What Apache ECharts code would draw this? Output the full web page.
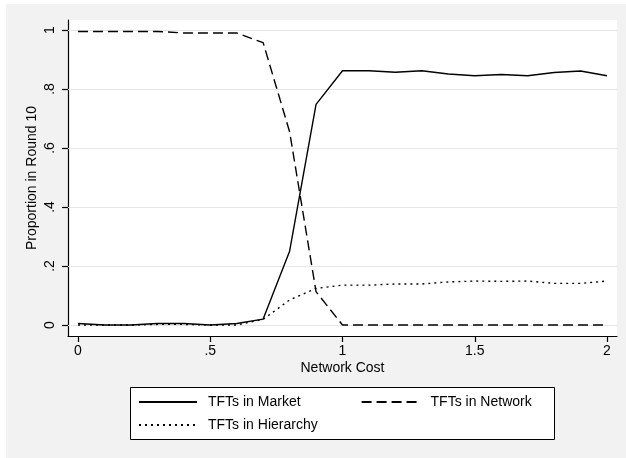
<!DOCTYPE html>
<html>
<head>
<meta charset="utf-8">
<script src="https://cdn.jsdelivr.net/npm/echarts@6/dist/echarts.min.js"></script>
<style>
html,body{margin:0;padding:0;background:#fff;}
#chart{width:626px;height:458px;}
</style>
</head>
<body>
<div id="chart"></div>
<script>
// ---- data ----
var networkCost = [0, 0.1, 0.2, 0.3, 0.4, 0.5, 0.6, 0.7, 0.8, 0.9, 1.0, 1.1, 1.2, 1.3, 1.4, 1.5, 1.6, 1.7, 1.8, 1.9, 2.0];
var tftsMarket = [0.005, 0.0, 0.0, 0.005, 0.005, 0.0, 0.005, 0.02, 0.25, 0.748, 0.862, 0.862, 0.857, 0.862, 0.851, 0.845, 0.849, 0.845, 0.856, 0.861, 0.845];
var tftsNetwork = [0.995, 0.995, 0.995, 0.995, 0.99, 0.99, 0.99, 0.957, 0.655, 0.113, 0.0, 0.0, 0.0, 0.0, 0.0, 0.0, 0.0, 0.0, 0.0, 0.0, 0.0];
var tftsHierarchy = [0.0, 0.0, 0.0, 0.002, 0.002, 0.0, 0.0, 0.019, 0.085, 0.124, 0.135, 0.135, 0.139, 0.139, 0.146, 0.149, 0.148, 0.149, 0.141, 0.141, 0.149];
var xTicks = [0, 0.5, 1, 1.5, 2];
var yTicks = [0, 0.2, 0.4, 0.6, 0.8, 1];
var seriesNames = ['TFTs in Market', 'TFTs in Network', 'TFTs in Hierarchy'];

function pairs(xs, ys) { return xs.map(function (x, i) { return [x, ys[i]]; }); }
function fmt(v) {
  var s = String(Math.round(v * 10) / 10);
  return s.replace(/^0\./, '.');
}

var font = 'Liberation Sans, Arial, Helvetica, sans-serif';
var chart = echarts.init(document.getElementById('chart'), null, {renderer: 'canvas'});
var lineW = 1.4;

var legendCommon = {
  orient: 'horizontal', padding: 0,
  itemWidth: 58, itemHeight: 14, z: 5, selectedMode: false,
  itemStyle: {opacity: 0},
  textStyle: {fontSize: 14, color: '#000', fontFamily: font, padding: [0, 0, 0, 6]}
};

var option = {
  animation: false,
  backgroundColor: '#ffffff',
  textStyle: {fontFamily: font},
  graphic: [
    {type: 'rect', z: -10, silent: true, shape: {x: 6, y: 4, width: 620, height: 454}, style: {fill: '#f2f2f2'}},
    {type: 'rect', z: 1, silent: true, shape: {x: 130.5, y: 387.5, width: 424, height: 52}, style: {fill: '#ffffff', stroke: '#000', lineWidth: 1}}
  ],
  grid: {left: 68, right: 9, top: 20, bottom: 122, show: true, backgroundColor: '#ffffff', borderWidth: 0, containLabel: false},
  xAxis: {
    type: 'value', min: -0.0378, max: 2.0378,
    name: 'Network Cost', nameLocation: 'middle', nameGap: 25, nameMoveOverlap: false,
    nameTextStyle: {fontSize: 14, color: '#000', fontFamily: font},
    axisLine: {show: true, onZero: false, lineStyle: {color: '#000', width: 1.2}},
    axisTick: {show: true, length: 6, customValues: xTicks, lineStyle: {color: '#000', width: 1.2}},
    axisLabel: {customValues: xTicks, formatter: fmt, fontSize: 14, color: '#000', margin: 8, fontFamily: font},
    splitLine: {show: false}
  },
  yAxis: {
    type: 'value', min: -0.0373, max: 1.0339,
    name: 'Proportion in Round 10', nameLocation: 'middle', nameGap: 29, nameRotate: 90, nameMoveOverlap: false,
    nameTextStyle: {fontSize: 14, color: '#000', fontFamily: font},
    axisLine: {show: true, onZero: false, lineStyle: {color: '#000', width: 1.2}},
    axisTick: {show: true, length: 6, customValues: yTicks, lineStyle: {color: '#000', width: 1.2}},
    axisLabel: {customValues: yTicks, formatter: fmt, fontSize: 14, color: '#000', margin: 11, rotate: 90, fontFamily: font},
    splitLine: {show: false}
  },
  legend: [
    Object.assign({}, legendCommon, {data: [seriesNames[0], seriesNames[1]], left: 138, top: 395, itemGap: 60}),
    Object.assign({}, legendCommon, {data: [seriesNames[2]], left: 138, top: 418})
  ],
  series: [
    {
      name: seriesNames[0], type: 'line', data: pairs(networkCost, tftsMarket),
      symbol: 'none', showSymbol: false, z: 4,
      lineStyle: {color: '#000', width: lineW, type: 'solid'},
      itemStyle: {color: '#000'},
      markLine: {
        silent: true, symbol: 'none', z: 1, label: {show: false},
        lineStyle: {color: '#e6e6e6', width: 1, type: 'solid'},
        data: yTicks.map(function (v) { return {yAxis: v}; })
      }
    },
    {
      name: seriesNames[1], type: 'line', data: pairs(networkCost, tftsNetwork),
      symbol: 'none', showSymbol: false, z: 4,
      lineStyle: {color: '#000', width: lineW, type: [10, 5]},
      itemStyle: {color: '#000'}
    },
    {
      name: seriesNames[2], type: 'line', data: pairs(networkCost, tftsHierarchy),
      symbol: 'none', showSymbol: false, z: 4,
      lineStyle: {color: '#000', width: lineW, type: [2, 4]},
      itemStyle: {color: '#000'}
    }
  ]
};
chart.setOption(option);
</script>
</body>
</html>
